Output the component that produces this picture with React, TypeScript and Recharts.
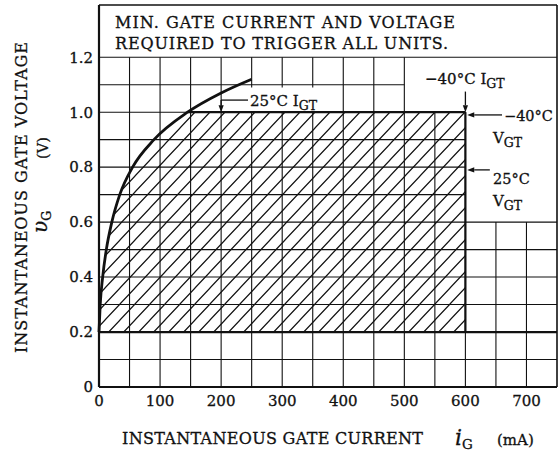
import React from "react";
import { ComposedChart, XAxis, YAxis, Area, Line, ReferenceLine } from "recharts";

const FONT = "'DejaVu Serif', serif";
const INK = "#111";

// 25°C IGT curve (mA, V)
const curveCurrent = [0, 2, 6, 12, 21, 34, 55, 90, 145, 200, 250];
const curveVoltage = [0.2, 0.3, 0.4, 0.5, 0.6, 0.7, 0.8, 0.9, 1.0, 1.07, 1.12];

// hatched trigger region: left edge follows the curve, top 1.0 V, right 600 mA
const regionCurrent = [0, 2, 6, 12, 21, 34, 55, 90, 145, 600];
const regionTop = [0.2, 0.3, 0.4, 0.5, 0.6, 0.7, 0.8, 0.9, 1.0, 1.0];
const regionBottom = 0.2;

const xTicks = [0, 100, 200, 300, 400, 500, 600, 700];
const yTicks = [0, 0.2, 0.4, 0.6, 0.8, 1.0, 1.2];
const X_MAX = 750;
const Y_MAX = 1.39;

// grid segments: [position, from, to]
const vGrid: [number, number, number][] = [
  [50, 0, 1.2], [100, 0, 1.2], [150, 0, 1.2], [200, 0, 1.2],
  [250, 0, 1.0], [250, 1.09, 1.2], [300, 0, 1.0], [300, 1.09, 1.2],
  [350, 0, 1.0], [350, 1.09, 1.2], [400, 0, 1.2], [450, 0, 1.2],
  [500, 0, 1.2], [550, 0, 1.0], [600, 0, 1.0], [650, 0, 0.6], [700, 0, 0.6],
];
const hGrid: [number, number, number][] = [
  [0.1, 0, 750], [0.3, 0, 750], [0.4, 0, 750], [0.5, 0, 750], [0.6, 0, 750],
  [0.7, 0, 600], [0.8, 0, 600], [0.9, 0, 600], [1.0, 0, 600], [1.1, 0, 500], [1.2, 0, 750],
];

// heavy outline of the trigger region
const heavy: [number, number, number, number][] = [
  [0, 0.2, 750, 0.2],
  [145, 1.0, 600, 1.0],
  [600, 0.2, 600, 1.0],
];

// arrows: from -> to (head at "to")
const arrows: [number, number, number, number, boolean][] = [
  [244, 1.044, 200, 1.044, false],
  [200, 1.044, 200, 1.0, true],
  [600, 1.075, 600, 1.0, true],
  [660, 0.99, 603, 0.99, true],
  [640, 0.79, 603, 0.79, true],
];

const curveData = curveCurrent.map((x, i) => ({ x, v: curveVoltage[i] }));
const regionData = regionCurrent.map((x, i) => ({ x, range: [regionBottom, regionTop[i]] }));

function ArrowShape(props: any) {
  const { x1, y1, x2, y2, head } = props;
  const dx = x2 - x1;
  const dy = y2 - y1;
  const len = Math.hypot(dx, dy) || 1;
  const ux = dx / len;
  const uy = dy / len;
  const L = 7;
  const W = 2.6;
  const bx = x2 - ux * L;
  const by = y2 - uy * L;
  return (
    <g>
      <line x1={x1} y1={y1} x2={head ? bx : x2} y2={head ? by : y2} stroke={INK} strokeWidth={1.3} />
      {head && (
        <polygon
          points={`${x2},${y2} ${bx - uy * W},${by + ux * W} ${bx + uy * W},${by - ux * W}`}
          fill={INK}
        />
      )}
    </g>
  );
}

const ink = { fontFamily: FONT, fill: INK, stroke: INK, strokeWidth: 0.3 };

function Sub({ children, x, y, size = 15, sub, subSize = 12.5 }: any) {
  return (
    <text x={x} y={y} fontSize={size} {...ink}>
      {children}
      <tspan fontSize={subSize} dy={4}>{sub}</tspan>
    </text>
  );
}

export default function App() {
  return (
    <div style={{ position: "absolute", left: 0, top: 0, width: 558, height: 454, background: "#fff" }}>
      <svg width={0} height={0} style={{ position: "absolute" }}>
        <defs>
          <pattern id="hatch" patternUnits="userSpaceOnUse" width={15} height={16}>
            <path d="M0,16 L15,0 M-3,3.2 L3,-3.2 M12,19.2 L18,12.8" stroke={INK} strokeWidth={1.2} />
          </pattern>
        </defs>
      </svg>

      <ComposedChart width={558} height={454} margin={{ top: 5, right: 1, left: 0, bottom: 0 }}>
        <XAxis
          type="number"
          dataKey="x"
          domain={[0, X_MAX]}
          ticks={xTicks}
          height={67}
          tickLine={false}
          tickSize={6}
          axisLine={{ stroke: INK, strokeWidth: 2.2 }}
          tick={{ ...ink, fontSize: 15 }}
          interval={0}
        />
        <YAxis
          type="number"
          domain={[0, Y_MAX]}
          ticks={yTicks}
          width={99}
          tickLine={false}
          tickSize={4}
          axisLine={{ stroke: INK, strokeWidth: 2.2 }}
          tick={{ ...ink, fontSize: 15 }}
          tickFormatter={(v: number) => (v === 0 ? "0" : v.toFixed(1))}
          interval={0}
        />

        {vGrid.map(([x, a, b], i) => (
          <ReferenceLine key={`v${i}`} segment={[{ x, y: a }, { x, y: b }]} stroke={INK} strokeWidth={1.1} />
        ))}
        {hGrid.map(([y, a, b], i) => (
          <ReferenceLine key={`h${i}`} segment={[{ x: a, y }, { x: b, y }]} stroke={INK} strokeWidth={1.1} />
        ))}
        <ReferenceLine y={Y_MAX} stroke={INK} strokeWidth={1.6} />
        <ReferenceLine x={X_MAX} stroke={INK} strokeWidth={1.6} />

        <Area
          data={regionData}
          dataKey="range"
          type="linear"
          stroke="none"
          fill="url(#hatch)"
          fillOpacity={1}
          isAnimationActive={false}
          activeDot={false}
        />

        {heavy.map(([xa, ya, xb, yb], i) => (
          <ReferenceLine key={`k${i}`} segment={[{ x: xa, y: ya }, { x: xb, y: yb }]} stroke={INK} strokeWidth={2.2} />
        ))}

        {arrows.map(([xa, ya, xb, yb, head], i) => (
          <ReferenceLine
            key={`a${i}`}
            segment={[{ x: xa, y: ya }, { x: xb, y: yb }]}
            shape={(p: any) => <ArrowShape {...p} head={head} />}
          />
        ))}

        <Line
          data={curveData}
          dataKey="v"
          type="monotone"
          stroke={INK}
          strokeWidth={2.8}
          dot={false}
          activeDot={false}
          isAnimationActive={false}
        />
      </ComposedChart>

      <svg width={558} height={454} style={{ position: "absolute", left: 0, top: 0, pointerEvents: "none" }}>
        <text x={115} y={28} fontSize={16} {...ink} textLength={340} lengthAdjust="spacing">
          MIN. GATE CURRENT AND VOLTAGE
        </text>
        <text x={115} y={49} fontSize={16} {...ink} textLength={333} lengthAdjust="spacing">
          REQUIRED TO TRIGGER ALL UNITS.
        </text>

        <Sub x={250} y={106} sub="GT">25°C I</Sub>
        <Sub x={425} y={84} sub="GT">−40°C I</Sub>
        <text x={504} y={121} fontSize={14.5} {...ink}>−40°C</text>
        <Sub x={493} y={143} sub="GT">V</Sub>
        <text x={493} y={184} fontSize={14.5} {...ink}>25°C</text>
        <Sub x={493} y={206} sub="GT">V</Sub>

        <text
          transform="translate(27,197.5) rotate(-90)"
          textAnchor="middle"
          fontSize={16}
          {...ink}
          textLength={311}
          lengthAdjust="spacing"
        >
          INSTANTANEOUS GATE VOLTAGE
        </text>
        <text transform="translate(47.5,148) rotate(-90)" textAnchor="middle" fontSize={14.5} {...ink}>
          (V)
        </text>
        <text transform="translate(47,233) rotate(-90)" {...ink}>
          <tspan fontSize={20} fontStyle="italic">υ</tspan>
          <tspan fontSize={12.5} dy={4}>G</tspan>
        </text>

        <text x={122} y={444} fontSize={16} {...ink} textLength={301} lengthAdjust="spacing">
          INSTANTANEOUS GATE CURRENT
        </text>
        <text x={455} y={445} {...ink}>
          <tspan fontSize={22} fontStyle="italic">i</tspan>
          <tspan fontSize={13.5} dy={4}>G</tspan>
        </text>
        <text x={497} y={445} fontSize={15} {...ink}>(mA)</text>
      </svg>
    </div>
  );
}
